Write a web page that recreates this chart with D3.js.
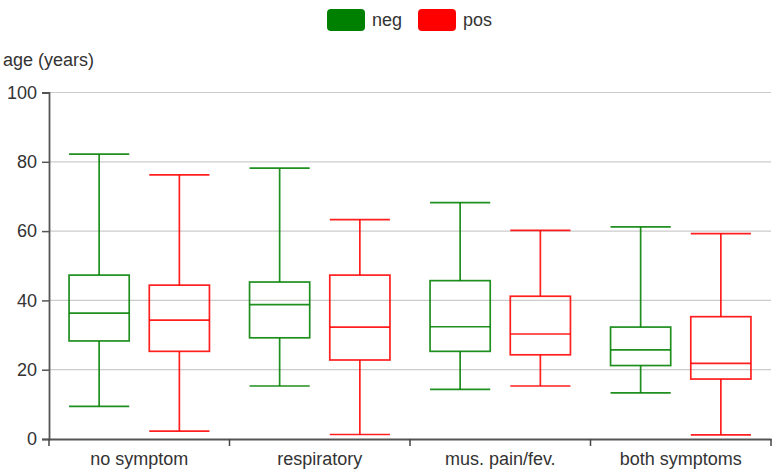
<!DOCTYPE html>
<html>
<head>
<meta charset="utf-8">
<script src="https://cdn.jsdelivr.net/npm/d3@7"></script>
<style>
  body { margin: 0; background: #fff; }
  text { font-family: "Liberation Sans", Arial, sans-serif; }
</style>
</head>
<body>
<div id="chart"></div>
<script>
// data
var categories = ["no symptom", "respiratory", "mus. pain/fev.", "both symptoms"];
var groups = ["neg", "pos"];
var groupColors = ["green", "red"];
// [min, q1, median, q3, max] per category
var negStats = [
  [9.4, 28.3, 36.3, 47.3, 82.2],
  [15.3, 29.2, 38.8, 45.3, 78.2],
  [14.3, 25.3, 32.4, 45.7, 68.2],
  [13.3, 21.2, 25.7, 32.3, 61.2]
];
var posStats = [
  [2.3, 25.3, 34.3, 44.4, 76.2],
  [1.3, 22.8, 32.3, 47.3, 63.3],
  [15.3, 24.3, 30.3, 41.2, 60.2],
  [1.2, 17.3, 21.8, 35.3, 59.3]
];
var yTicks = [0, 20, 40, 60, 80, 100];

var W = 777, H = 473;
var margin = { top: 92.5, right: 6, bottom: 34, left: 49 },
    width = W - margin.left - margin.right,
    height = H - margin.top - margin.bottom;
var fontSize = 18;

var svg = d3.select("#chart")
  .append("svg")
  .attr("width", W)
  .attr("height", H);

var g = svg.append("g")
  .attr("transform", "translate(" + margin.left + "," + margin.top + ")");

var x0 = d3.scaleBand().domain(categories).range([0, width]);
var x1 = d3.scaleBand().domain(groups).range([0, x0.bandwidth()]).padding(0.25);
var y = d3.scaleLinear().domain([0, 100]).range([height, 0]);

// gridlines
g.append("g")
  .selectAll("line")
  .data(yTicks.slice(1))
  .join("line")
  .attr("x1", 0)
  .attr("x2", width)
  .attr("y1", d => y(d))
  .attr("y2", d => y(d))
  .attr("stroke", "#ccc")
  .attr("stroke-width", 1.2);

// boxes
var statsByGroup = [negStats, posStats];
groups.forEach(function (grp, gi) {
  var color = groupColors[gi];
  var sel = g.append("g")
    .selectAll("g")
    .data(statsByGroup[gi])
    .join("g")
    .attr("transform", (d, i) => "translate(" + (x0(categories[i]) + x1(grp)) + ",0)")
    .attr("stroke", color)
    .attr("stroke-opacity", 0.88)
    .attr("stroke-width", 1.7)
    .attr("fill", "none");
  var bw = x1.bandwidth();
  sel.append("line")
    .attr("x1", bw / 2).attr("x2", bw / 2)
    .attr("y1", d => y(d[4])).attr("y2", d => y(d[3]));
  sel.append("line")
    .attr("x1", bw / 2).attr("x2", bw / 2)
    .attr("y1", d => y(d[1])).attr("y2", d => y(d[0]));
  sel.append("line")
    .attr("x1", 0).attr("x2", bw)
    .attr("y1", d => y(d[4])).attr("y2", d => y(d[4]));
  sel.append("line")
    .attr("x1", 0).attr("x2", bw)
    .attr("y1", d => y(d[0])).attr("y2", d => y(d[0]));
  sel.append("rect")
    .attr("x", 0)
    .attr("width", bw)
    .attr("y", d => y(d[3]))
    .attr("height", d => y(d[1]) - y(d[3]));
  sel.append("line")
    .attr("x1", 0).attr("x2", bw)
    .attr("y1", d => y(d[2])).attr("y2", d => y(d[2]));
});

// axes
var yAxis = g.append("g")
  .call(d3.axisLeft(y).tickValues(yTicks).tickSize(7).tickPadding(5));
var xAxis = g.append("g")
  .attr("transform", "translate(0," + height + ")")
  .call(d3.axisBottom(x0).tickSize(0).tickPadding(13));

// ticks at band boundaries
xAxis.selectAll(".sep")
  .data(d3.range(categories.length + 1))
  .join("line")
  .attr("class", "sep")
  .attr("x1", i => i * x0.step())
  .attr("x2", i => i * x0.step())
  .attr("y1", 0)
  .attr("y2", 7)
  .attr("stroke", "#444")
  .attr("stroke-width", 1.5);

[yAxis, xAxis].forEach(function (ax) {
  ax.select(".domain").attr("stroke", "#555").attr("stroke-width", 1.8);
  ax.selectAll(".tick line").attr("stroke", "#555").attr("stroke-width", 1.5);
  ax.selectAll("text").attr("font-size", fontSize).attr("fill", "#333")
    .attr("font-family", "'Liberation Sans', Arial, sans-serif");
});

// y label
svg.append("text")
  .attr("x", 3)
  .attr("y", 66)
  .attr("font-size", fontSize)
  .attr("fill", "#333")
  .text("age (years)");

// legend
var legendX = [327, 418];
var legend = svg.append("g")
  .selectAll("g")
  .data(groups)
  .join("g")
  .attr("transform", (d, i) => "translate(" + legendX[i] + ",9)");
legend.append("rect")
  .attr("width", 38)
  .attr("height", 22)
  .attr("rx", 4)
  .attr("fill", (d, i) => groupColors[i]);
legend.append("text")
  .attr("x", 45)
  .attr("y", 17)
  .attr("font-size", fontSize)
  .attr("fill", "#333")
  .text(d => d);
</script>
</body>
</html>
